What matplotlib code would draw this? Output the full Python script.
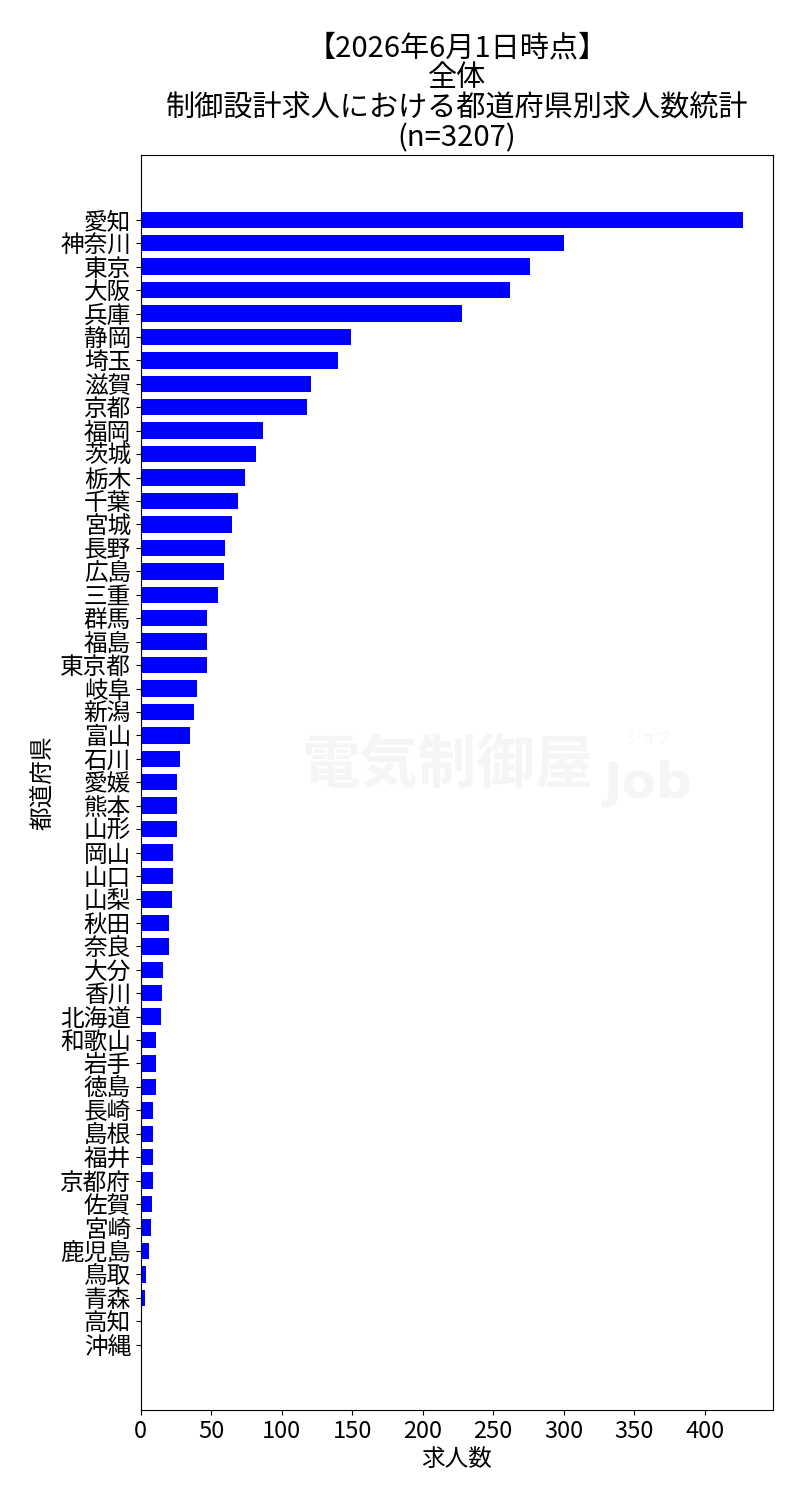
import matplotlib
matplotlib.use("Agg")
import matplotlib.pyplot as plt

plt.rcParams['font.family'] = ['Noto Sans CJK JP', 'DejaVu Sans']

# 都道府県別求人数 (上から順)
prefectures = [
    "愛知", "神奈川", "東京", "大阪", "兵庫", "静岡", "埼玉", "滋賀", "京都", "福岡",
    "茨城", "栃木", "千葉", "宮城", "長野", "広島", "三重", "群馬", "福島", "東京都",
    "岐阜", "新潟", "富山", "石川", "愛媛", "熊本", "山形", "岡山", "山口", "山梨",
    "秋田", "奈良", "大分", "香川", "北海道", "和歌山", "岩手", "徳島", "長崎", "島根",
    "福井", "京都府", "佐賀", "宮崎", "鹿児島", "鳥取", "青森", "高知", "沖縄",
]
counts = [
    427, 300, 276, 262, 228, 149, 140, 121, 118, 87,
    82, 74, 69, 65, 60, 59, 55, 47, 47, 47,
    40, 38, 35, 28, 26, 26, 26, 23, 23, 22,
    20, 20, 16, 15, 14, 11, 11, 11, 9, 9,
    9, 9, 8, 7, 6, 4, 3, 1, 1,
]
title_lines = ["【2026年6月1日時点】", "全体", "制御設計求人における都道府県別求人数統計", "(n=3207)"]

fig = plt.figure(figsize=(8, 15), dpi=100)
ax = fig.add_axes([0.176, 0.06, 0.790, 0.837])

# watermark (very faint)
wm_color = '#f5f5f5'
fig.text(0.559, 0.489, "電気制御屋", fontsize=42, fontweight='bold', color=wm_color,
         ha='center', va='center', zorder=0)
fig.text(0.81, 0.468, "Job", fontsize=36, fontweight='bold', color=wm_color,
         ha='center', va='baseline', zorder=0, family='DejaVu Sans')
fig.text(0.81, 0.508, "ジョブ", fontsize=11, color=wm_color,
         ha='center', va='center', zorder=0)
ax.patch.set_alpha(0)

ypos = list(range(len(prefectures)))
ax.barh(ypos, counts, height=0.7, color='blue')
ax.set_yticks(ypos)
ax.set_yticklabels(prefectures)
ax.invert_yaxis()
ax.set_xlim(0, max(counts) * 1.05)
ax.set_xticks(range(0, 401, 50))

ax.tick_params(axis='both', labelsize=17)
ax.set_xlabel("求人数", fontsize=17)
ax.set_ylabel("都道府県", fontsize=17)
ax.set_title("\n".join(title_lines), fontsize=21, linespacing=1.0)

fig.savefig("out.png", dpi=100)
